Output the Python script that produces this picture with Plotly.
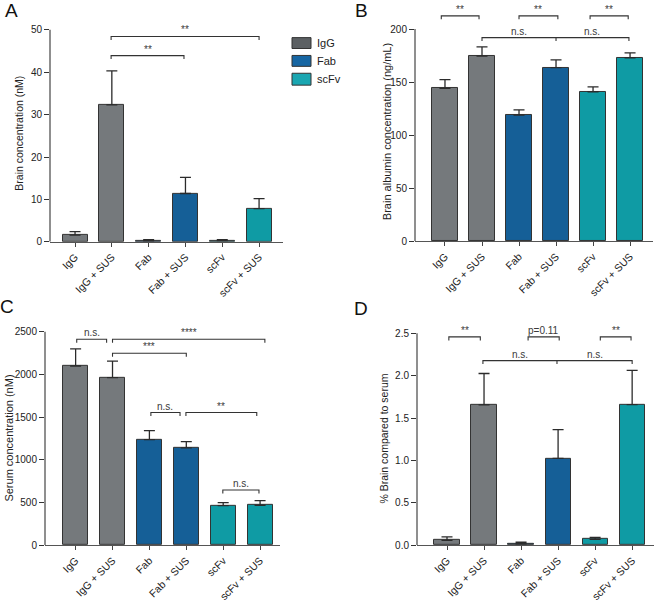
import plotly.graph_objects as go

W, H = 657, 603
FONT = "Arial, Liberation Sans, Helvetica, sans-serif"

# ---------------- data ----------------
categories = ["IgG", "IgG + SUS", "Fab", "Fab + SUS", "scFv", "scFv + SUS"]
groups = ["IgG", "Fab", "scFv"]
group_of_bar = [0, 0, 1, 1, 2, 2]
bar_colors = ["#75797c", "#155f97", "#0f9ba4"]
legend_colors = ["#5c6063", "#1766a3", "#1aa6b1"]

# Panel A: brain concentration (nM)
brain_conc = [1.6, 32.3, 0.25, 11.4, 0.3, 7.85]
brain_conc_err = [0.8, 8.0, 0.25, 3.8, 0.2, 2.35]
# Panel B: brain albumin concentration (ng/mL)
albumin = [144.0, 174.4, 118.8, 163.6, 140.9, 172.9]
albumin_err = [8.4, 8.8, 5.0, 7.4, 4.6, 4.7]
# Panel C: serum concentration (nM)
serum = [2098, 1963, 1237, 1140, 464, 468]
serum_err = [201, 193, 104, 73, 34, 53]
# Panel D: % brain compared to serum
pct_brain = [0.058, 1.655, 0.016, 1.025, 0.07, 1.659]
pct_brain_err = [0.04, 0.371, 0.019, 0.338, 0.023, 0.405]

# significance brackets: (x positions in category units, y value, labels)
brackets_A = [([0.98, 2.96], 43.9, ["**"]), ([0.98, 5.0], 48.4, ["**"])]
brackets_B = [([-0.1, 0.92], 212.4, ["**"]), ([2.0, 3.05], 212.4, ["**"]),
              ([3.92, 4.95], 212.4, ["**"]), ([1.0, 3.0, 4.97], 191.9, ["n.s.", "n.s."])]
brackets_C = [([0.03, 0.84], 2411, ["n.s."]), ([1.0, 5.13], 2411, ["****"]),
              ([1.0, 3.0], 2248, ["***"]), ([2.04, 2.83], 1553, ["n.s."]),
              ([2.99, 4.91], 1553, ["**"]), ([3.99, 4.97], 646, ["n.s."])]
brackets_D = [([0.05, 0.9], 2.458, ["**"]), ([2.19, 3.03], 2.458, ["p=0.11"]),
              ([4.14, 4.97], 2.458, ["**"]), ([0.97, 2.97, 5.0], 2.178, ["n.s.", "n.s."])]

y_ticks_A = [0, 10, 20, 30, 40, 50]
y_ticks_B = [0, 50, 100, 150, 200]
y_ticks_C = [0, 500, 1000, 1500, 2000, 2500]
y_ticks_D = [0.0, 0.5, 1.0, 1.5, 2.0, 2.5]
y_ticktext_D = ["0.0", "0.5", "1.0", "1.5", "2.0", "2.5"]

# ---------------- layout of panels (pixels) ----------------
panels = [
    dict(letter="A", ax="", vals=brain_conc, err=brain_conc_err, br=brackets_A,
         ticks=y_ticks_A, ticktext=[str(v) for v in y_ticks_A],
         xpx=(50, 283), xr=(-0.68, 5.65), ypx_bottom=244.3, ypx_toptick=30, ypx_top=12,
         title="Brain concentration (nM)", title_pos=(19, 135), title_size=10.5,
         letter_pos=(11, 11)),
    dict(letter="B", ax="2", vals=albumin, err=albumin_err, br=brackets_B,
         ticks=y_ticks_B, ticktext=[str(v) for v in y_ticks_B],
         xpx=(415, 653), xr=(-0.81, 5.62), ypx_bottom=243.7, ypx_toptick=29.3, ypx_top=3,
         title="Brain albumin concentration (ng/mL)", title_pos=(387, 133.5), title_size=11,
         letter_pos=(361, 11)),
    dict(letter="C", ax="3", vals=serum, err=serum_err, br=brackets_C,
         ticks=y_ticks_C, ticktext=[str(v) for v in y_ticks_C],
         xpx=(45, 280), xr=(-0.83, 5.54), ypx_bottom=550.7, ypx_toptick=335, ypx_top=318,
         title="Serum concentration (nM)", title_pos=(9, 443), title_size=11,
         letter_pos=(7, 310)),
    dict(letter="D", ax="4", vals=pct_brain, err=pct_brain_err, br=brackets_D,
         ticks=y_ticks_D, ticktext=y_ticktext_D,
         xpx=(417, 654), xr=(-0.81, 5.59), ypx_bottom=550.7, ypx_toptick=336.7, ypx_top=318,
         title="% Brain compared to serum", title_pos=(384, 443), title_size=10.5,
         letter_pos=(361, 312)),
]

fig = go.Figure()
shapes = []
annotations = []
layout_axes = {}

for p in panels:
    ax = p["ax"]
    xname, yname = "x" + ax, "y" + ax
    topval = p["ticks"][-1]
    ymax = topval * (p["ypx_bottom"] - p["ypx_top"]) / (p["ypx_bottom"] - p["ypx_toptick"])
    units_per_px = ymax / (p["ypx_bottom"] - p["ypx_top"])
    tick = 3.5 * units_per_px

    fig.add_trace(go.Bar(
        x=list(range(len(categories))), y=p["vals"], width=0.68,
        marker=dict(color=[bar_colors[g] for g in group_of_bar],
                    line=dict(color="#333333", width=1)),
        error_y=dict(type="data", symmetric=False, array=p["err"],
                     arrayminus=[0] * len(p["err"]), color="#2b2b2b",
                     thickness=1.3, width=5.5),
        xaxis=xname, yaxis=yname, showlegend=False,
    ))

    layout_axes["xaxis" + ax] = dict(
        domain=[p["xpx"][0] / W, p["xpx"][1] / W], range=list(p["xr"]),
        anchor=yname, tickmode="array", tickvals=list(range(len(categories))),
        ticktext=categories, tickangle=-45, ticks="outside", ticklen=4,
        tickcolor="#444", showline=True, linecolor="#555", linewidth=1.3,
        showgrid=False, zeroline=False,
        tickfont=dict(family=FONT, size=10.5, color="#222"),
    )
    layout_axes["yaxis" + ax] = dict(
        domain=[1 - p["ypx_bottom"] / H, 1 - p["ypx_top"] / H], range=[0, ymax],
        anchor=xname, tickmode="array", tickvals=p["ticks"], ticktext=p["ticktext"],
        ticks="outside", ticklen=5, tickcolor="#333", showline=False,
        showgrid=False, zeroline=False,
        tickfont=dict(family=FONT, size=10, color="#222"),
    )
    # y axis line only up to the top tick
    shapes.append(dict(type="line", xref=xname + " domain", yref=yname,
                       x0=0, x1=0, y0=0, y1=topval,
                       line=dict(color="#333", width=1.1)))

    # brackets
    for xs, yv, labels in p["br"]:
        if len(xs) == 2:
            path = f"M{xs[0]},{yv - tick} L{xs[0]},{yv} L{xs[1]},{yv} L{xs[1]},{yv - tick}"
            mids = [(xs[0] + xs[1]) / 2]
        else:
            path = (f"M{xs[0]},{yv - tick} L{xs[0]},{yv} L{xs[2]},{yv} L{xs[2]},{yv - tick} "
                    f"M{xs[1]},{yv} L{xs[1]},{yv - tick}")
            mids = [(xs[0] + xs[1]) / 2, (xs[1] + xs[2]) / 2]
        shapes.append(dict(type="path", xref=xname, yref=yname, path=path,
                           line=dict(color="#333", width=1.1)))
        for m, lab in zip(mids, labels):
            annotations.append(dict(x=m, y=yv, xref=xname, yref=yname, text=lab,
                                    showarrow=False, yanchor="bottom", yshift=-1,
                                    font=dict(family=FONT, size=10, color="#3a3a3a")))

    # axis title
    annotations.append(dict(x=p["title_pos"][0] / W, y=1 - p["title_pos"][1] / H,
                            xref="paper", yref="paper", text=p["title"], textangle=-90,
                            showarrow=False, xanchor="center", yanchor="middle",
                            font=dict(family=FONT, size=p["title_size"], color="#222")))
    # panel letter
    annotations.append(dict(x=p["letter_pos"][0] / W, y=1 - p["letter_pos"][1] / H,
                            xref="paper", yref="paper", text=p["letter"],
                            showarrow=False, xanchor="center", yanchor="middle",
                            font=dict(family=FONT, size=19, color="#111")))

# legend (drawn manually to match swatch shape)
leg_x0, leg_x1 = 292, 311
leg_rows = [(38, 49), (56, 67), (74, 86)]
for name, col, (t, b) in zip(groups, legend_colors, leg_rows):
    shapes.append(dict(type="rect", xref="paper", yref="paper",
                       x0=leg_x0 / W, x1=leg_x1 / W, y0=1 - b / H, y1=1 - t / H,
                       fillcolor=col, line=dict(color="#333", width=1)))
    annotations.append(dict(x=315 / W, y=1 - ((t + b) / 2) / H, xref="paper", yref="paper",
                            text=name, showarrow=False, xanchor="left", yanchor="middle",
                            font=dict(family=FONT, size=11, color="#222")))

fig.update_layout(
    width=W, height=H, margin=dict(l=0, r=0, t=0, b=0),
    paper_bgcolor="white", plot_bgcolor="white",
    shapes=shapes, annotations=annotations, bargap=0,
    font=dict(family=FONT), **layout_axes,
)

fig.write_html(
    "out.html",
    config={"displayModeBar": False},
    post_script="document.body.style.margin='0';document.body.style.padding='0';"
                "document.documentElement.style.overflow='hidden';",
)
